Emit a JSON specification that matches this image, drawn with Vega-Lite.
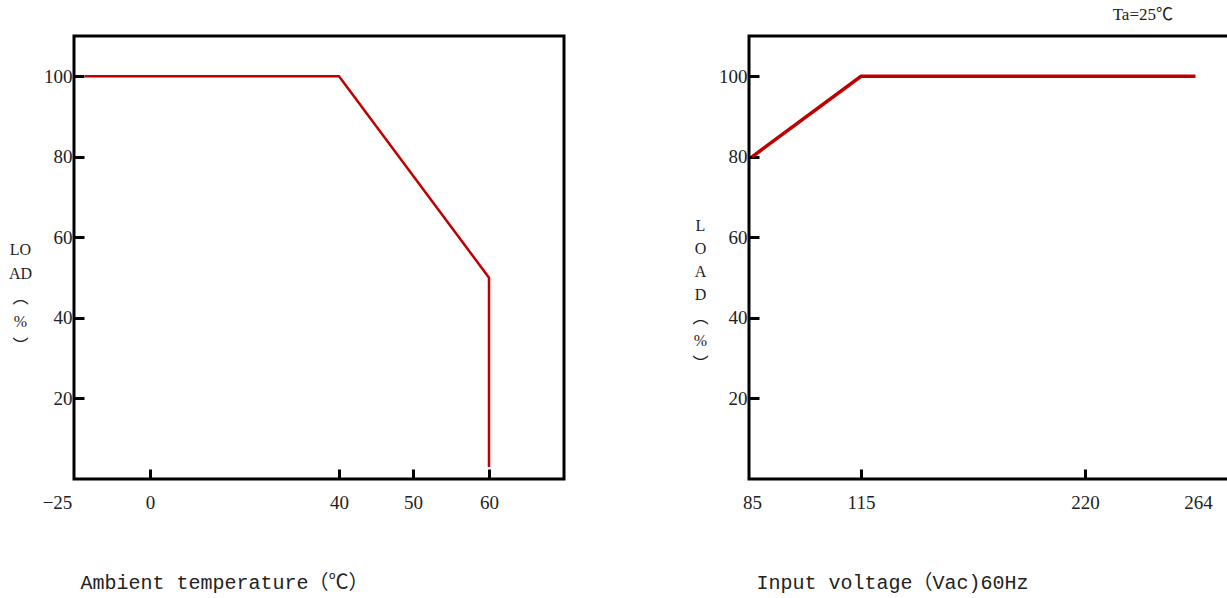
{
  "$schema": "https://vega.github.io/schema/vega-lite/v6.json",
  "padding": {"left": 6, "top": 4, "right": 5, "bottom": 5},
  "background": "white",
  "bounds": "flush",
  "spacing": 185,
  "config": {
    "view": {"stroke": "black", "strokeWidth": 3},
    "axis": {
      "domain": false,
      "grid": false,
      "tickColor": "black",
      "tickWidth": 3,
      "tickSize": -10,
      "labelFont": "Liberation Serif",
      "labelFontSize": 19,
      "labelColor": "#222",
      "labelFlush": false,
      "labelOverlap": false,
      "titleFontWeight": "normal",
      "titleColor": "#222"
    }
  },
  "datasets": {
    "temp": [
      {"i": 1, "t": -17.5, "load": 100},
      {"i": 2, "t": 40, "load": 100},
      {"i": 3, "t": 60, "load": 50},
      {"i": 4, "t": 60, "load": 3}
    ],
    "volt": [
      {"i": 1, "v": 85, "load": 80},
      {"i": 2, "v": 115, "load": 100},
      {"i": 3, "v": 263, "load": 100}
    ]
  },
  "hconcat": [
    {
      "width": 490,
      "height": 443,
      "data": {"name": "temp"},
      "mark": {"type": "line", "color": "#c00000", "strokeWidth": 2.5},
      "encoding": {
        "order": {"field": "i", "type": "quantitative"},
        "x": {
          "field": "t",
          "type": "quantitative",
          "scale": {"domain": [-25, 0, 40, 50, 60, 70], "range": [-17, 76, 265, 339, 415, 490], "nice": false, "zero": false, "clamp": false},
          "axis": {
            "values": [-25, 0, 40, 50, 60],
            "tickOpacity": {"condition": {"test": "datum.value < -20", "value": 0}, "value": 1},
            "labelPadding": 24,
            "title": "Ambient temperature（℃）",
            "titleFont": "'Liberation Mono', 'Noto Sans CJK SC'",
            "titleFontSize": 20,
            "titleX": 6,
            "titleY": 103,
            "titleAlign": "left",
            "titleBaseline": "middle"
          }
        },
        "y": {
          "field": "load",
          "type": "quantitative",
          "scale": {"domain": [0, 110], "nice": false, "zero": true},
          "axis": {
            "values": [20, 40, 60, 80, 100],
            "labelPadding": 12,
            "title": ["LO", "AD", "︵", "%", "︶"],
            "titleFont": "'Liberation Serif', 'Noto Sans CJK SC'",
            "titleFontSize": 16,
            "titleAngle": 0,
            "titleLineHeight": 24,
            "titleX": -54,
            "titleY": 205,
            "titleAlign": "center",
            "titleBaseline": "top"
          }
        }
      }
    },
    {
      "width": 490,
      "height": 443,
      "title": {"text": "Ta=25℃", "anchor": "end", "dx": -66, "offset": 12, "font": "'Liberation Serif', 'Noto Sans CJK SC'", "fontSize": 17, "fontWeight": "normal", "color": "#222"},
      "data": {"name": "volt"},
      "mark": {"type": "line", "color": "#c00000", "strokeWidth": 3.5},
      "encoding": {
        "order": {"field": "i", "type": "quantitative"},
        "x": {
          "field": "v",
          "type": "quantitative",
          "scale": {"domain": [85, 115, 220, 264, 280], "range": [3, 112, 336, 449, 490], "nice": false, "zero": false},
          "axis": {
            "values": [85, 115, 220, 264],
            "tickOpacity": {"condition": {"test": "datum.value == 85 || datum.value == 264", "value": 0}, "value": 1},
            "labelPadding": 24,
            "title": "Input voltage（Vac)60Hz",
            "titleFont": "'Liberation Mono', 'Noto Sans CJK SC'",
            "titleFontSize": 20,
            "titleX": 7,
            "titleY": 103,
            "titleAlign": "left",
            "titleBaseline": "middle"
          }
        },
        "y": {
          "field": "load",
          "type": "quantitative",
          "scale": {"domain": [0, 110], "nice": false, "zero": true},
          "axis": {
            "values": [20, 40, 60, 80, 100],
            "labelPadding": 12,
            "title": ["L", "O", "A", "D", "︵", "%", "︶"],
            "titleFont": "'Liberation Serif', 'Noto Sans CJK SC'",
            "titleFontSize": 16,
            "titleAngle": 0,
            "titleLineHeight": 23,
            "titleX": -49,
            "titleY": 181,
            "titleAlign": "center",
            "titleBaseline": "top"
          }
        }
      }
    }
  ]
}
